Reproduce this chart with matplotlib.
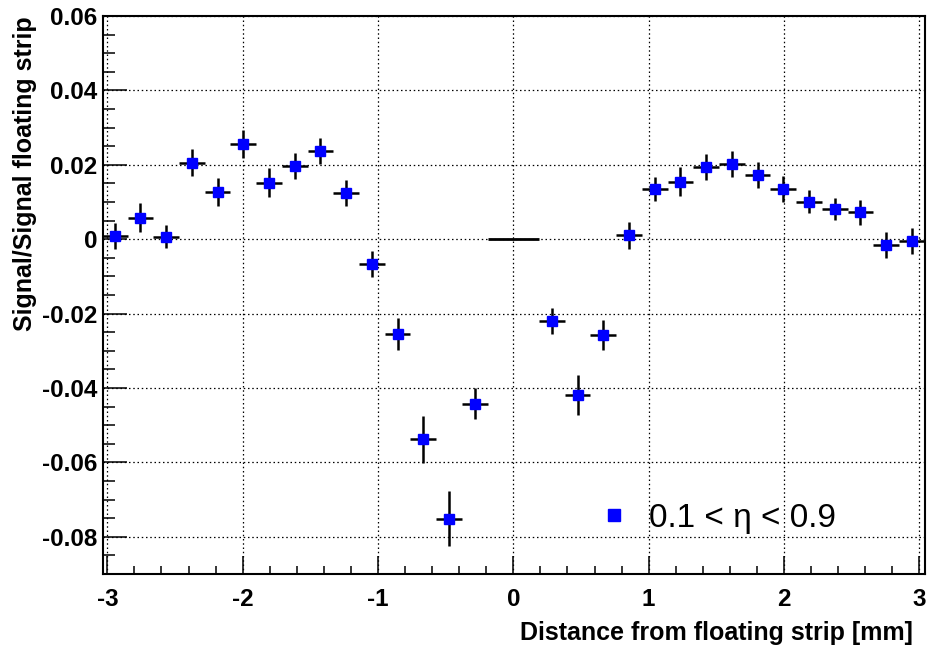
import matplotlib
matplotlib.use("Agg")
import matplotlib.pyplot as plt
from matplotlib.ticker import MultipleLocator, FuncFormatter

plt.rcParams['font.family'] = ['Liberation Sans', 'DejaVu Sans']
plt.rcParams['axes.unicode_minus'] = False

# bin centres [mm], the middle bin is twice as wide
pos_left = [-2.945, -2.755, -2.565, -2.375, -2.185, -1.995, -1.805, -1.615,
            -1.425, -1.235, -1.045, -0.855, -0.665, -0.475, -0.285]
pos_right = [0.285, 0.475, 0.665, 0.855, 1.045, 1.235, 1.425, 1.615,
             1.805, 1.995, 2.185, 2.375, 2.565, 2.755, 2.945]
half_width = 0.095
centre_pos = 0.0
centre_half_width = 0.19
centre_val = 0.0

ratio_left = [0.0009, 0.0058, 0.0007, 0.0206, 0.0127, 0.0256, 0.0152, 0.0197,
              0.0238, 0.0124, -0.0067, -0.0255, -0.0538, -0.0751, -0.0442]
ratio_right = [-0.0219, -0.0419, -0.0258, 0.0010, 0.0135, 0.0155, 0.0195, 0.0201,
               0.0173, 0.0135, 0.0101, 0.0082, 0.0072, -0.0015, -0.0005]
err_left = [0.0035, 0.0038, 0.0031, 0.0037, 0.0037, 0.0038, 0.0039, 0.0034,
            0.0035, 0.0035, 0.0035, 0.0043, 0.0064, 0.0074, 0.0042]
err_right = [0.0035, 0.0053, 0.0041, 0.0035, 0.0033, 0.0039, 0.0035, 0.0035,
             0.0035, 0.0035, 0.0031, 0.0030, 0.0034, 0.0035, 0.0035]

label = "0.1 < \u03b7 < 0.9"

fig = plt.figure(figsize=(9.3, 6.48), dpi=100)
ax = fig.add_axes([103 / 930, 74 / 648, 822 / 930, 558 / 648])

ax.set_xlim(-3.032, 3.042)
ax.set_ylim(-0.09, 0.06)

ax.errorbar([centre_pos], [centre_val], xerr=centre_half_width, fmt='none',
            ecolor='black', elinewidth=2.0, capsize=0)
pts = ax.errorbar(pos_left + pos_right, ratio_left + ratio_right,
                  xerr=half_width, yerr=err_left + err_right,
                  fmt='s', color='#0000ff', mec='#0000ff', ms=7.6,
                  ecolor='black', elinewidth=1.8, capsize=0, zorder=3,
                  label=label)

ax.xaxis.set_major_locator(MultipleLocator(1))
ax.xaxis.set_minor_locator(MultipleLocator(0.2))
ax.yaxis.set_major_locator(MultipleLocator(0.02))
ax.yaxis.set_minor_locator(MultipleLocator(0.005))
ax.yaxis.set_major_formatter(FuncFormatter(lambda v, p: '0' if abs(v) < 1e-9 else '%.2f' % v))
ax.xaxis.set_major_formatter(FuncFormatter(lambda v, p: '%d' % round(v)))

ax.tick_params(axis='both', which='both', direction='in', top=False, right=False,
               width=1.1, labelsize=17.5)
ax.tick_params(axis='x', which='major', length=12.7, pad=10)
ax.tick_params(axis='x', which='minor', length=6)
ax.tick_params(axis='y', which='major', length=17.3, pad=4)
ax.tick_params(axis='y', which='minor', length=8.9)
for t in ax.get_xticklabels() + ax.get_yticklabels():
    t.set_fontweight('bold')

ax.grid(True, which='major', color='black', linewidth=0.9, linestyle=(0, (1.2, 2.2)))
ax.set_axisbelow(True)

for s in ax.spines.values():
    s.set_linewidth(1.5)

ax.set_xlabel("Distance from floating strip [mm]", fontsize=18, fontweight='bold',
              ha='right', x=(913 - 103) / 822, labelpad=7)
ax.set_ylabel("Signal/Signal floating strip", fontsize=18, fontweight='bold',
              ha='right', y=1.0, labelpad=3.5)

ax.legend(handles=[pts[0]], labels=[label], loc='center right',
          bbox_to_anchor=((853 - 103) / 822, (574 - 518) / 558),
          frameon=False, fontsize=24, borderpad=0, handletextpad=0.55,
          handlelength=1.0, markerscale=1.2)

fig.savefig("out.png", dpi=100)
